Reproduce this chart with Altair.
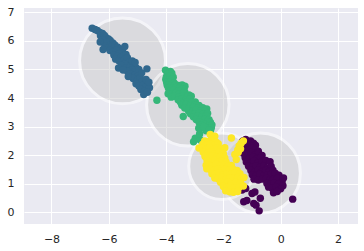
import altair as alt
import pandas as pd

# ---- axes ----
x_domain = [-8.96, 2.70]
y_domain = [-0.41, 7.15]
x_ticks = [-8, -6, -4, -2, 0, 2]
y_ticks = [0, 1, 2, 3, 4, 5, 6, 7]

# ---- cluster circles (center, radius) ----
cluster_ids = [0, 1, 2, 3]
cluster_colors = ["#440154", "#31688e", "#35b779", "#fde725"]
center_x = [-0.71, -5.52, -3.24, -2.05]
center_y = [1.37, 5.30, 3.76, 1.61]
radius = [1.40, 1.50, 1.44, 1.16]

# ---- points per cluster (x, y) ----
purple_pts = [
    (-1.32, 2.50), (-1.22, 2.55), (-1.15, 2.47), (-1.05, 2.50), (-0.95, 2.42),
    (-0.88, 2.35), (-1.10, 2.36), (-1.00, 2.30), (-1.30, 2.38),
    (-1.35, 2.25), (-1.25, 2.20), (-1.12, 2.17), (-1.00, 2.23), (-0.88, 2.19), (-0.78, 2.14),
    (-1.30, 2.07), (-1.17, 2.02), (-1.03, 2.09), (-0.91, 2.01), (-0.78, 2.06), (-0.65, 1.99),
    (-1.24, 1.91), (-1.10, 1.87), (-0.96, 1.93), (-0.83, 1.87), (-0.70, 1.91),
    (-1.20, 1.76), (-1.06, 1.71), (-0.93, 1.79), (-0.80, 1.72), (-0.66, 1.76), (-0.52, 1.81), (-0.37, 1.77),
    (-1.12, 1.61), (-0.99, 1.57), (-0.86, 1.63), (-0.72, 1.57), (-0.59, 1.61), (-0.46, 1.55), (-0.33, 1.60),
    (-1.04, 1.46), (-0.91, 1.41), (-0.78, 1.48), (-0.65, 1.42), (-0.52, 1.46), (-0.40, 1.41), (-0.27, 1.47),
    (-0.99, 1.31), (-0.86, 1.27), (-0.73, 1.33), (-0.59, 1.28), (-0.46, 1.31), (-0.33, 1.33), (-0.19, 1.37), (-0.06, 1.30),
    (-0.93, 1.16), (-0.78, 1.13), (-0.63, 1.16), (-0.50, 1.19), (-0.38, 1.12), (-0.25, 1.16), (-0.11, 1.19), (0.05, 1.07), (0.10, 1.20),
    (-0.48, 1.01), (-0.35, 0.98), (-0.22, 1.03), (-0.08, 0.97), (0.08, 0.93),
    (-0.42, 0.88), (-0.30, 0.84), (-0.15, 0.89), (0.00, 0.82),
    (-0.25, 0.68), (-0.12, 0.73),
    (-1.35, 0.78), (-1.22, 0.83), (-1.00, 0.66), (-0.90, 0.71), (-0.71, 0.49),
    (-1.29, 0.37), (-1.18, 0.41), (-0.94, 0.31), (-0.86, 0.25), (-0.75, 0.05), (0.42, 0.46),
]

blue_pts = [
    (-6.58, 6.44), (-6.48, 6.40), (-6.40, 6.36), (-6.31, 6.29), (-6.22, 6.26), (-6.29, 6.18),
    (-6.15, 6.19), (-6.09, 6.11), (-6.01, 6.07), (-6.21, 6.04),
    (-6.30, 5.96), (-6.15, 5.91), (-6.05, 5.96), (-5.95, 6.01), (-5.86, 5.93), (-6.12, 5.81),
    (-6.00, 5.76), (-5.90, 5.81), (-5.79, 5.86), (-5.69, 5.78), (-5.59, 5.72), (-5.52, 5.62),
    (-5.96, 5.66), (-5.85, 5.62), (-5.74, 5.66), (-5.64, 5.55), (-5.82, 5.50), (-5.70, 5.45),
    (-5.59, 5.41), (-5.49, 5.46), (-5.40, 5.52), (-5.44, 5.80), (-6.20, 5.70),
    (-5.76, 5.36), (-5.65, 5.30), (-5.55, 5.27), (-5.45, 5.35), (-5.35, 5.41), (-5.29, 5.25),
    (-5.45, 5.19), (-5.56, 5.14), (-5.40, 5.05), (-5.24, 5.11), (-5.15, 5.16), (-5.05, 5.06),
    (-5.19, 4.98), (-5.35, 4.94), (-5.10, 4.92), (-4.95, 5.00), (-4.67, 5.02), (-5.18, 5.30),
    (-5.08, 5.24), (-5.66, 5.05), (-5.50, 4.98),
    (-5.26, 4.85), (-5.10, 4.79), (-4.98, 4.78), (-5.15, 4.68), (-5.00, 4.62), (-4.90, 4.71),
    (-4.85, 4.55), (-5.05, 4.50), (-4.95, 4.42), (-4.80, 4.45), (-4.70, 4.40), (-4.88, 4.30),
    (-4.75, 4.25), (-4.58, 4.36), (-4.78, 4.12), (-4.65, 4.20), (-4.70, 4.65), (-4.60, 4.55),
    (-4.85, 4.88), (-5.32, 4.75),
]

green_pts = [
    (-4.02, 4.97), (-3.85, 4.93), (-3.95, 4.84), (-3.80, 4.87), (-3.99, 4.74), (-3.88, 4.77),
    (-3.75, 4.73), (-4.01, 4.65), (-3.90, 4.63), (-3.78, 4.67),
    (-3.98, 4.54), (-3.85, 4.57), (-3.72, 4.53), (-3.96, 4.45), (-3.82, 4.43), (-3.68, 4.47),
    (-3.56, 4.44), (-3.44, 4.46), (-3.34, 4.41),
    (-3.92, 4.35), (-3.80, 4.33), (-3.65, 4.37), (-3.52, 4.34), (-3.40, 4.32),
    (-3.88, 4.25), (-3.75, 4.27), (-3.60, 4.23), (-3.48, 4.26), (-3.35, 4.22),
    (-3.93, 4.15), (-3.82, 4.12), (-3.68, 4.16), (-3.55, 4.13), (-3.40, 4.17), (-3.20, 4.11),
    (-3.82, 4.03), (-3.70, 4.06), (-3.55, 4.03), (-3.42, 4.07), (-3.28, 4.04), (-3.12, 4.06),
    (-3.58, 3.94), (-3.45, 3.97), (-3.32, 3.93), (-3.18, 3.96),
    (-3.50, 3.86), (-3.38, 3.83), (-3.25, 3.87), (-3.10, 3.84), (-2.98, 3.86),
    (-3.45, 3.75), (-3.30, 3.77), (-3.15, 3.73), (-3.00, 3.76), (-2.85, 3.74),
    (-3.35, 3.65), (-3.20, 3.63), (-3.05, 3.67), (-2.90, 3.64), (-2.72, 3.66), (-2.58, 3.62),
    (-3.22, 3.55), (-3.08, 3.53), (-2.95, 3.57), (-2.80, 3.54), (-2.65, 3.56),
    (-3.15, 3.45), (-3.00, 3.43), (-2.85, 3.47), (-2.70, 3.44), (-2.55, 3.46),
    (-3.40, 3.35), (-3.05, 3.34), (-2.90, 3.37), (-2.75, 3.33), (-2.60, 3.36),
    (-2.95, 3.25), (-2.80, 3.23), (-2.65, 3.27), (-2.50, 3.24),
    (-2.85, 3.15), (-2.70, 3.13), (-2.55, 3.17), (-2.45, 3.14),
    (-2.80, 3.05), (-2.65, 3.07), (-2.50, 3.03), (-2.40, 3.06),
    (-2.70, 2.95), (-2.55, 2.93), (-2.42, 2.96),
    (-2.60, 2.85), (-2.45, 2.86),
    (-4.32, 3.92), (-2.86, 2.94), (-2.69, 3.00), (-2.51, 2.88), (-2.98, 2.59),
    (-2.81, 2.53), (-3.04, 2.47), (-2.83, 2.74),
]

yellow_pts = [
    (-2.46, 2.72), (-2.30, 2.66), (-2.38, 2.58), (-1.72, 2.60),
    (-2.65, 2.50), (-2.52, 2.47), (-2.40, 2.51), (-2.25, 2.45), (-1.30, 2.50),
    (-2.72, 2.38), (-2.58, 2.35), (-2.45, 2.39), (-2.32, 2.34), (-2.18, 2.40), (-1.38, 2.42), (-1.45, 2.32),
    (-2.85, 2.25), (-2.72, 2.24), (-2.60, 2.21), (-2.48, 2.26), (-2.35, 2.19), (-2.22, 2.25),
    (-2.08, 2.22), (-1.95, 2.26), (-1.50, 2.18), (-1.40, 2.22),
    (-2.70, 2.10), (-2.55, 2.07), (-2.42, 2.12), (-2.30, 2.05), (-2.15, 2.10), (-2.00, 2.05),
    (-1.60, 2.02), (-1.48, 2.10),
    (-2.64, 1.95), (-2.50, 1.92), (-2.38, 1.98), (-2.25, 1.92), (-2.10, 1.95), (-1.95, 1.90), (-1.55, 1.85),
    (-2.57, 1.80), (-2.42, 1.77), (-2.30, 1.82), (-2.18, 1.75), (-2.05, 1.80), (-1.90, 1.75),
    (-2.60, 1.65), (-2.50, 1.65), (-2.38, 1.62), (-2.25, 1.68), (-2.12, 1.60), (-1.98, 1.65),
    (-1.85, 1.60), (-1.72, 1.64),
    (-2.58, 1.52), (-2.45, 1.50), (-2.32, 1.47), (-2.20, 1.52), (-2.08, 1.45), (-1.95, 1.50),
    (-1.80, 1.48), (-1.65, 1.50), (-1.52, 1.46),
    (-2.40, 1.35), (-2.28, 1.32), (-2.15, 1.38), (-2.02, 1.30), (-1.88, 1.35), (-1.75, 1.32),
    (-1.60, 1.38), (-1.42, 1.35),
    (-2.30, 1.20), (-2.18, 1.17), (-2.05, 1.22), (-1.92, 1.15), (-1.78, 1.20), (-1.65, 1.18),
    (-1.50, 1.22), (-1.38, 1.17), (-1.28, 1.22),
    (-2.10, 1.05), (-1.98, 1.02), (-1.85, 1.06), (-1.72, 1.00), (-1.58, 1.05), (-1.40, 1.02),
    (-2.00, 0.90), (-1.88, 0.87), (-1.75, 0.91), (-1.62, 0.85), (-1.45, 0.88), (-1.30, 0.92),
    (-1.92, 0.75), (-1.78, 0.72), (-1.65, 0.70), (-1.50, 0.73),
]

# ---- build tables ----
W, H = 334, 216
px_per_unit = W / (x_domain[1] - x_domain[0])

circles = pd.DataFrame({"cluster": cluster_ids, "cx": center_x,
                        "cy": center_y, "r": radius})

frames = []
for cid, pts in [(0, purple_pts), (1, blue_pts), (2, green_pts), (3, yellow_pts)]:
    frames.append(pd.DataFrame({"x": [p[0] for p in pts],
                                "y": [p[1] for p in pts],
                                "cluster": cid}))
points = pd.concat(frames, ignore_index=True)

xscale = alt.Scale(domain=x_domain, nice=False, zero=False)
yscale = alt.Scale(domain=y_domain, nice=False, zero=False)
xaxis = alt.Axis(values=x_ticks, title=None, labelPadding=9)
yaxis = alt.Axis(values=y_ticks, title=None, labelPadding=10)

circle_layer = alt.Chart(circles).transform_calculate(
    sz=f"pow(2 * datum.r * {px_per_unit}, 2)"
).mark_circle(
    fill="#CCCCCC", stroke="white", strokeWidth=3, opacity=0.5
).encode(
    x=alt.X("cx:Q", scale=xscale, axis=xaxis),
    y=alt.Y("cy:Q", scale=yscale, axis=yaxis),
    size=alt.Size("sz:Q", scale=None),
)

point_layer = alt.Chart(points).mark_circle(size=55, opacity=1).encode(
    x=alt.X("x:Q", scale=xscale, axis=xaxis),
    y=alt.Y("y:Q", scale=yscale, axis=yaxis),
    color=alt.Color("cluster:O",
                    scale=alt.Scale(domain=cluster_ids, range=cluster_colors),
                    legend=None),
)

chart = alt.layer(circle_layer, point_layer).properties(
    width=W, height=H,
    autosize=alt.AutoSizeParams(type="none"),
    padding={"left": 24, "top": 8, "right": 6, "bottom": 27},
    background="white",
).configure_view(
    fill="#EAEAF2", strokeWidth=0
).configure_axis(
    grid=True, gridColor="white", gridWidth=1, domain=False, ticks=False,
    labelFont="DejaVu Sans", labelFontSize=11, labelColor="#262626",
    labelFlush=False,
)

chart.save("out.html", embed_options={"renderer": "svg", "actions": False})
